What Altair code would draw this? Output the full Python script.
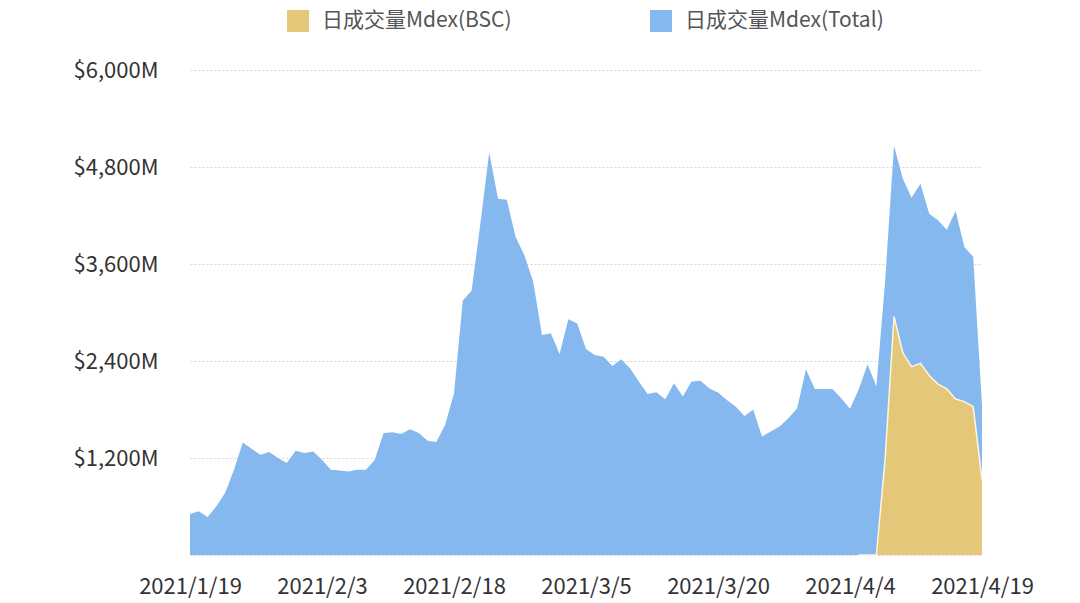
import altair as alt
import pandas as pd

# ---- data ----
dates = [d.strftime("%Y-%m-%d") for d in pd.date_range("2021-01-19", "2021-04-19", freq="D")]

total_volume = [
    508, 540, 471, 602, 771, 1055, 1392, 1314, 1240, 1273,
    1199, 1137, 1289, 1261, 1281, 1178, 1055, 1046, 1034, 1055,
    1055, 1178, 1508, 1520, 1496, 1557, 1508, 1413, 1397, 1610,
    2000, 3150, 3270, 4100, 4980, 4408, 4396, 3934, 3708, 3379,
    2721, 2742, 2487, 2918, 2865, 2548, 2474, 2453, 2338, 2421,
    2310, 2145, 1993, 2014, 1927, 2125, 1960, 2145, 2157, 2063,
    2009, 1919, 1836, 1721, 1796, 1466, 1528, 1590, 1693, 1816,
    2298, 2055, 2055, 2055, 1940, 1808, 2051, 2360, 2083, 3400,
    5066, 4655, 4420, 4593, 4223, 4140, 4025, 4255, 3811, 3687,
    1850,
]

bsc_volume = [None] * 76 + [
    0, 0, 0, 1200,
    2950, 2500, 2330, 2371, 2220, 2115, 2055, 1930, 1898, 1836,
    930,
]

series_names = ["日成交量Mdex(BSC)", "日成交量Mdex(Total)"]
series_colors = ["#E5C77A", "#85B8EE"]
x_tick_dates = [(2021, 1, 19), (2021, 2, 3), (2021, 2, 18), (2021, 3, 5),
                (2021, 3, 20), (2021, 4, 4), (2021, 4, 19)]
y_ticks = [0, 1200, 2400, 3600, 4800, 6000]

# ---- build table ----
rows = []
for d, t, b in zip(dates, total_volume, bsc_volume):
    rows.append({"date": d, "value": t, "series": series_names[1]})
    rows.append({"date": d, "value": b, "series": series_names[0]})
df = pd.DataFrame(rows)

FONT = "Noto Sans CJK SC"

x_enc = alt.X(
    "date:T",
    scale=alt.Scale(
        type="utc",
        domain=[alt.DateTime(year=2021, month=1, date=19, utc=True),
                alt.DateTime(year=2021, month=4, date=19, utc=True)],
    ),
    axis=alt.Axis(
        values=[alt.DateTime(year=y, month=m, date=d, utc=True) for (y, m, d) in x_tick_dates],
        labelExpr="utcFormat(datum.value, '%Y/%-m/%-d')",
        title=None,
        domain=False,
        ticks=False,
        grid=False,
        labelFontSize=22,
        labelColor="#333333",
        labelPadding=21,
        labelFont=FONT,
        labelFlush=False,
        labelOverlap=False,
    ),
)

y_enc = alt.Y(
    "value:Q",
    scale=alt.Scale(domain=[0, 6000], nice=False),
    axis=alt.Axis(
        values=y_ticks,
        labelExpr="datum.value == 0 ? '' : '$' + format(datum.value, ',') + 'M'",
        title=None,
        domain=False,
        ticks=False,
        grid=True,
        gridColor="#d4d4d4",
        gridDash=[2, 2],
        gridWidth=1,
        labelFontSize=22,
        labelColor="#333333",
        labelPadding=32,
        labelFont=FONT,
    ),
)

color_enc = alt.Color(
    "series:N",
    scale=alt.Scale(domain=series_names, range=series_colors),
    legend=alt.Legend(
        orient="none",
        legendX=97,
        legendY=-60,
        direction="horizontal",
        title=None,
        symbolType="square",
        symbolSize=484,
        symbolStrokeWidth=0,
        symbolOpacity=1,
        labelFontSize=21,
        labelFont=FONT,
        labelColor="#555555",
        labelOffset=13,
        labelLimit=400,
        columnPadding=138,
        padding=0,
    ),
)

base = alt.Chart(df)

total_area = base.transform_filter(
    alt.datum.series == series_names[1]
).mark_area(opacity=1, interpolate="linear").encode(x=x_enc, y=y_enc, color=color_enc)

bsc_area = base.transform_filter(
    alt.datum.series == series_names[0]
).mark_area(opacity=1, interpolate="linear").encode(x=x_enc, y=y_enc, color=color_enc)

bsc_line = base.transform_filter(
    alt.datum.series == series_names[0]
).mark_line(color="#FFF6E0", strokeWidth=1.5, interpolate="linear").encode(x=x_enc, y=y_enc)

chart = alt.layer(total_area, bsc_area, bsc_line).properties(
    width=792,
    height=485,
    padding={"left": 182, "top": 62, "right": 90, "bottom": 48},
    autosize=alt.AutoSizeParams(type="none"),
    background="white",
).configure(font=FONT).configure_view(stroke=None)

chart.save("out.html", embed_options={"renderer": "svg", "actions": False})
